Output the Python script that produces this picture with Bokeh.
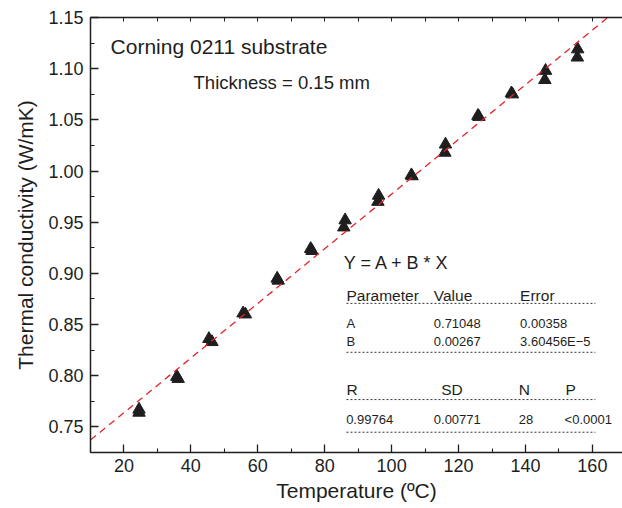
from bokeh.plotting import figure
from bokeh.models import FixedTicker, LinearAxis, Range1d, Label
from bokeh.embed import file_html
from bokeh.resources import INLINE

# ---- data ----
temperature = [24.5, 24.5, 35.8, 36.2, 45.4, 46.3, 55.6, 56.3, 65.8, 66.1,
               75.8, 76.2, 85.7, 86.1, 95.9, 96.1, 105.9, 106.1, 115.9, 116.1,
               125.8, 126.1, 135.8, 136.1, 145.8, 146.0, 155.5, 155.6]
conductivity = [0.767, 0.764, 0.799, 0.797, 0.836, 0.833, 0.861, 0.860, 0.895, 0.893,
                0.924, 0.922, 0.945, 0.952, 0.970, 0.976, 0.996, 0.995, 1.018, 1.026,
                1.054, 1.053, 1.076, 1.075, 1.089, 1.098, 1.111, 1.119]

fit_A = 0.71048
fit_B = 0.00267
fit_x = [10, 169]

x_ticks = [20, 40, 60, 80, 100, 120, 140, 160]
x_minor = [10, 30, 50, 70, 90, 110, 130, 150, 170]
y_ticks = [0.75, 0.80, 0.85, 0.90, 0.95, 1.00, 1.05, 1.10, 1.15]
y_tick_labels = ["0.75", "0.80", "0.85", "0.90", "0.95", "1.00", "1.05", "1.10", "1.15"]
y_minor = [0.725, 0.775, 0.825, 0.875, 0.925, 0.975, 1.025, 1.075, 1.125]

table_header1 = ["Parameter", "Value", "Error"]
row_A = ["A", "0.71048", "0.00358"]
row_B = ["B", "0.00267", "3.60456E\u22125"]
table_header2 = ["R", "SD", "N", "P"]
row_stats = ["0.99764", "0.00771", "28", "<0.0001"]

FONT = "Liberation Sans"
INK = "#1e1e1e"

p = figure(width=622, height=508, output_backend="svg", toolbar_location=None,
           x_range=Range1d(10, 169), y_range=Range1d(0.725, 1.15),
           min_border_left=90, min_border_top=17, min_border_right=0, min_border_bottom=56)
p.outline_line_color = None
p.xgrid.visible = False
p.ygrid.visible = False
p.background_fill_color = "white"
p.border_fill_color = "white"

for ax in (p.xaxis[0], p.yaxis[0]):
    ax.axis_line_color = INK
    ax.axis_line_width = 1.5
    ax.major_tick_line_color = INK
    ax.minor_tick_line_color = INK
    ax.major_tick_line_width = 1.3
    ax.minor_tick_line_width = 1.1
    ax.major_tick_in = 8
    ax.major_tick_out = 0
    ax.minor_tick_in = 4
    ax.minor_tick_out = 0
    ax.major_label_text_font = FONT
    ax.major_label_text_font_size = "18px"
    ax.major_label_text_color = INK
    ax.axis_label_text_font = FONT
    ax.axis_label_text_font_size = "21px"
    ax.axis_label_text_font_style = "normal"
    ax.axis_label_text_color = INK

p.xaxis[0].ticker = FixedTicker(ticks=x_ticks, minor_ticks=x_minor)
p.yaxis[0].ticker = FixedTicker(ticks=y_ticks, minor_ticks=y_minor)
p.yaxis[0].major_label_overrides = {t: s for t, s in zip(y_ticks, y_tick_labels)}
p.xaxis[0].axis_label = "Temperature (\u00baC)"
p.yaxis[0].axis_label = "Thermal conductivity (W/mK)"
p.xaxis[0].major_label_standoff = 6
p.xaxis[0].axis_label_standoff = 4
p.yaxis[0].major_label_standoff = 7
p.yaxis[0].axis_label_standoff = 8

top = LinearAxis(ticker=FixedTicker(ticks=x_ticks + x_minor, minor_ticks=[]))
top.axis_line_color = INK
top.axis_line_width = 1.5
top.major_tick_line_color = INK
top.major_tick_in = 4
top.major_tick_out = 0
top.minor_tick_in = 0
top.minor_tick_out = 0
top.major_label_text_font_size = "0px"
top.major_label_standoff = 0
top.major_label_text_color = None
p.add_layout(top, "above")

# data points
p.scatter(temperature, conductivity, marker="triangle", size=12.5,
          fill_color=INK, line_color=INK)

# linear fit
fit_y = [fit_A + fit_B * x for x in fit_x]
p.line(fit_x, fit_y, line_color="#e3242b", line_width=1.3, line_dash="7 5")

def txt(x, y, s, size):
    p.add_layout(Label(x=x, y=y, text=s, text_font=FONT, text_font_size=size,
                       text_color=INK, text_baseline="alphabetic", text_align="left"))

txt(16.0, 1.122, "Corning 0211 substrate", "21px")
txt(40.8, 1.0863, "Thickness = 0.15 mm", "18.5px")
txt(85.7, 0.9097, "Y = A + B * X", "18px")

col3 = [86.5, 112.6, 138.4]
for x, s in zip(col3, table_header1):
    txt(x, 0.8782, s, "15.5px")
for x, s in zip(col3, row_A):
    txt(x, 0.8506, s, "13px")
for x, s in zip(col3, row_B):
    txt(x, 0.8333, s, "13px")
for x, s in zip([86.5, 114.8, 138.0, 152.0], table_header2):
    txt(x, 0.7862, s, "15.5px")
for x, s in zip([86.4, 112.6, 138.0, 151.7], row_stats):
    txt(x, 0.7569, s, "13px")

for yy in [0.8707, 0.8229, 0.7767, 0.7448]:
    p.line([86.5, 160.9], [yy, yy], line_color="#333333", line_width=1, line_dash="2 2")

open("out.html", "w").write(file_html(p, INLINE))
